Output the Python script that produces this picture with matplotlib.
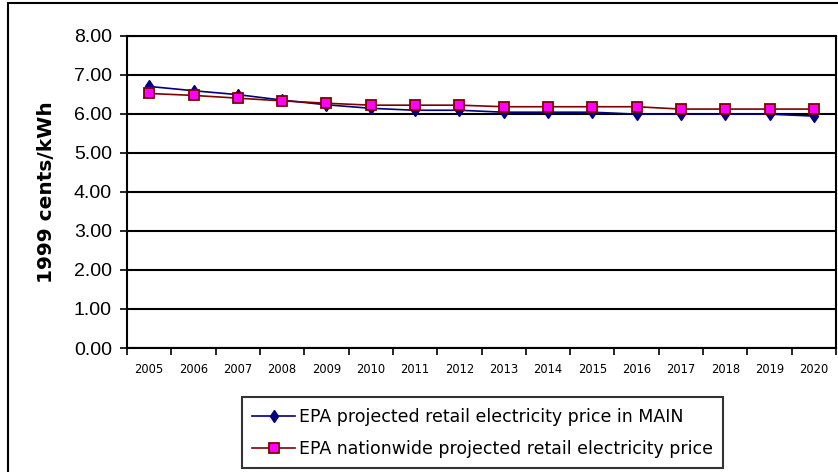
import matplotlib.pyplot as plt
from matplotlib.patches import Rectangle

plt.rcParams['font.family'] = ['DejaVu Sans']

# === Price projections (1999 cents/kWh) ===
years = [str(y) for y in range(2005, 2021)]
main_price = [6.70, 6.59, 6.49, 6.35, 6.23, 6.14, 6.09, 6.09,
              6.04, 6.04, 6.04, 5.99, 5.99, 5.99, 5.99, 5.94]
nation_price = [6.52, 6.47, 6.40, 6.33, 6.27, 6.22, 6.22, 6.22,
                6.18, 6.18, 6.18, 6.18, 6.12, 6.12, 6.12, 6.12]
yticks = [0, 1, 2, 3, 4, 5, 6, 7, 8]

fig = plt.figure(figsize=(8.38, 4.72), dpi=100)
ax = fig.add_axes([0.1516, 0.2627, 0.8460, 0.6617])

x = range(len(years))
ax.plot(x, main_price, color='#000080', linewidth=1.2, marker='d',
        markersize=6, markerfacecolor='#000080', markeredgecolor='#000080',
        label='EPA projected retail electricity price in MAIN', zorder=3)
ax.plot(x, nation_price, color='#800000', linewidth=1.2, marker='s',
        markersize=7, markerfacecolor='#FF00FF', markeredgecolor='#800000',
        markeredgewidth=1.3,
        label='EPA nationwide projected retail electricity price', zorder=4)

ax.set_xlim(-0.5, len(years) - 0.5)
ax.set_ylim(0, 8)
ax.set_yticks(yticks)
ax.set_yticklabels([f'{v:.2f}' for v in yticks], fontsize=14,
                   family='Liberation Sans')
ax.yaxis.grid(True, color='black', linewidth=1.5)
ax.set_axisbelow(True)

# category ticks sit between the years
ax.set_xticks([i - 0.5 for i in range(len(years) + 1)], minor=False)
ax.set_xticklabels([])
ax.set_xticks(list(x), minor=True)
ax.set_xticklabels(years, minor=True, fontsize=8.3)
ax.tick_params(axis='x', which='major', length=5, width=1.2, direction='out')
ax.tick_params(axis='x', which='minor', length=0, pad=11)
ax.tick_params(axis='y', length=5, width=1.2, pad=6)

for sp in ax.spines.values():
    sp.set_linewidth(1.5)
    sp.set_color('black')

ax.set_ylabel('1999 cents/kWh', fontsize=14.5, fontweight='bold')
ax.yaxis.set_label_coords(-0.100, 0.5)

leg = fig.legend(loc='center', bbox_to_anchor=(0.5758, 0.0833),
                 fontsize=12.5, frameon=True, fancybox=False,
                 handlelength=2.5, handletextpad=0.2, borderpad=0.6,
                 labelspacing=0.8, borderaxespad=0)
leg.get_frame().set_edgecolor('black')
leg.get_frame().set_linewidth(1.5)

# outer chart border
fig.patches.append(Rectangle((8 / 838, -0.01), 1.0, 1 - 3 / 472 + 0.01,
                             transform=fig.transFigure, fill=False,
                             edgecolor='black', linewidth=1.5))

fig.savefig('out.png', dpi=100)
